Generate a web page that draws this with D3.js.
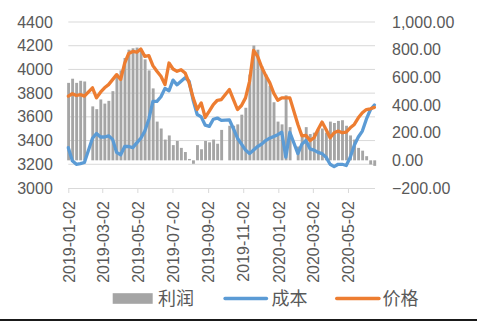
<!DOCTYPE html>
<html>
<head>
<meta charset="utf-8">
<script src="https://cdn.jsdelivr.net/npm/d3@7"></script>
<style>
html,body{margin:0;padding:0;background:#fff;}
svg{display:block;}
</style>
</head>
<body>
<div id="chart"></div>
<script>
// ---- data (weekly readings, week dates start 2019-01-02, step 7 days) ----
const startDate = "2019-01-02";
const tickLabels = ["2019-01-02","2019-03-02","2019-05-02","2019-07-02","2019-09-02","2019-11-02","2020-01-02","2020-03-02","2020-05-02"];
const leftTicks = [3000,3200,3400,3600,3800,4000,4200,4400];
const rightTicks = [-200,0,200,400,600,800,1000];
const seriesNames = ["利润","成本","价格"];

// 价格 (price, left axis)
const price = [3775,3795,3780,3788,3775,null,3845,3760,3808,3845,3872,3914,3956,3915,4054,4135,4152,4145,4172,4110,4116,4032,3984,3942,3872,4054,4004,3984,3998,3970,3886,3760,3662,3718,3595,3648,3704,3740,3746,null,3830,3746,3662,3696,3760,3900,4160,4110,4020,3950,3890,3800,3740,3760,3760,3760,null,3536,3440,3444,3400,3424,3494,3556,3494,3424,3466,3480,3466,3472,3508,3536,3592,3634,3662,3668,3680];
// 成本 (cost, left axis)
const cost = [3340,3230,3200,3205,3215,null,3420,3460,3430,3430,3440,3410,3300,3280,3350,3350,3340,3380,3420,3480,3580,3730,3730,3770,3840,3820,3910,3870,3900,3930,3900,3740,3620,3600,3530,3520,3580,3590,3570,null,3575,3500,3420,3370,3320,3290,3320,3350,3370,3400,3420,3435,3450,3470,3260,3470,null,3290,3370,3400,3330,3320,3300,3290,3260,3200,3180,3200,3200,3190,3260,3360,3430,3480,3580,3660,3700];
// 利润 (profit, right axis)
const profit = [560,590,560,575,570,null,390,370,440,410,430,500,620,650,740,800,810,815,800,730,650,520,280,230,150,180,110,140,90,60,10,-25,110,80,140,130,150,120,220,null,250,250,260,330,380,620,830,800,680,620,540,420,280,260,470,240,null,100,170,240,190,200,220,230,200,280,270,285,290,250,180,150,90,70,30,-30,-40];

// ---- layout ----
const W = 477, H = 321;
const plot = {left: 68.3, right: 375, top: 22, bottom: 188};
const parse = d3.timeParse("%Y-%m-%d");
const t0 = parse(startDate);
const dates = profit.map((_, i) => d3.timeDay.offset(t0, 7 * i));

const x = d3.scaleTime().domain([t0, parse("2020-06-18")]).range([plot.left, plot.right]);
const yL = d3.scaleLinear().domain([3000, 4400]).range([plot.bottom, plot.top]);
const yR = d3.scaleLinear().domain([-200, 1000]).range([plot.bottom, plot.top]);

const svg = d3.select("#chart").append("svg").attr("width", W).attr("height", H);
const textColor = "#595959";
const numFont = "'Liberation Sans', Arial, sans-serif";
const cjkFont = "'Noto Sans CJK SC', sans-serif";

// gridlines (left axis ticks)
svg.append("g").selectAll("line").data(leftTicks.filter(v => v > 3000)).join("line")
  .attr("x1", plot.left).attr("x2", plot.right)
  .attr("y1", d => yL(d)).attr("y2", d => yL(d))
  .attr("stroke", "#d9d9d9").attr("stroke-width", 1);

// bars (profit)
const barData = profit.map((v, i) => ({v, d: dates[i]})).filter(o => o.v !== null);
svg.append("g").selectAll("rect").data(barData).join("rect")
  .attr("x", o => x(d3.timeDay.offset(o.d, -2)))
  .attr("width", o => x(d3.timeDay.offset(o.d, 3)) - x(d3.timeDay.offset(o.d, -2)))
  .attr("y", o => Math.min(yR(0), yR(o.v)))
  .attr("height", o => Math.abs(yR(o.v) - yR(0)))
  .attr("fill", "#a5a5a5");

// x axis line + ticks
const xAxis = d3.axisBottom(x)
  .tickValues(tickLabels.map(parse))
  .tickFormat(d3.timeFormat("%Y-%m-%d"))
  .tickSize(5).tickSizeOuter(0);
const gx = svg.append("g").attr("transform", `translate(0,${plot.bottom})`).call(xAxis);
gx.select(".domain").attr("stroke", "#d9d9d9").attr("d", `M${plot.left},0.5H${plot.right}`);
gx.selectAll(".tick line").attr("stroke", "#d9d9d9");
gx.selectAll(".tick text")
  .attr("fill", textColor).attr("font-family", numFont).attr("font-size", 16)
  .attr("transform", "rotate(-90)")
  .attr("text-anchor", "end")
  .attr("x", -13).attr("y", 0).attr("dy", "0.36em");

// left axis
const gl = svg.append("g").attr("transform", `translate(${plot.left},0)`)
  .call(d3.axisLeft(yL).tickValues(leftTicks).tickSize(0).tickPadding(15.5).tickFormat(d3.format("d")));
gl.select(".domain").remove();
gl.selectAll("text").attr("fill", textColor).attr("font-family", numFont).attr("font-size", 16);

// right axis
const gr = svg.append("g").attr("transform", `translate(${plot.right},0)`)
  .call(d3.axisRight(yR).tickValues(rightTicks).tickSize(0).tickPadding(17).tickFormat(d3.format(",.2f")));
gr.select(".domain").remove();
gr.selectAll("text").attr("fill", textColor).attr("font-family", numFont).attr("font-size", 16);

// lines
function drawLine(vals, color) {
  const pts = vals.map((v, i) => ({v, d: dates[i]})).filter(o => o.v !== null);
  svg.append("path").datum(pts)
    .attr("fill", "none").attr("stroke", color).attr("stroke-width", 3.3)
    .attr("stroke-linejoin", "round").attr("stroke-linecap", "round")
    .attr("d", d3.line().x(o => x(o.d)).y(o => yL(o.v)));
}
drawLine(cost, "#5b9bd5");
drawLine(price, "#ed7d31");

// legend
const lg = svg.append("g");
const ly = 298.5;
lg.append("rect").attr("x", 112.7).attr("y", ly - 5.3).attr("width", 40).attr("height", 10.6).attr("fill", "#a5a5a5");
lg.append("line").attr("x1", 225).attr("x2", 266.5).attr("y1", ly).attr("y2", ly)
  .attr("stroke", "#5b9bd5").attr("stroke-width", 3.3).attr("stroke-linecap", "round");
lg.append("line").attr("x1", 336.7).attr("x2", 379).attr("y1", ly).attr("y2", ly)
  .attr("stroke", "#ed7d31").attr("stroke-width", 3.3).attr("stroke-linecap", "round");
const lx = [158, 271.5, 382.5];
lg.selectAll("text").data(seriesNames).join("text")
  .attr("x", (d, i) => lx[i]).attr("y", ly).attr("dy", "0.36em")
  .attr("font-family", cjkFont).attr("font-size", 18).attr("fill", textColor)
  .text(d => d);

// bottom frame line
svg.append("rect").attr("x", 0).attr("y", 319).attr("width", W).attr("height", 2).attr("fill", "#1a1a1a");
</script>
</body>
</html>
